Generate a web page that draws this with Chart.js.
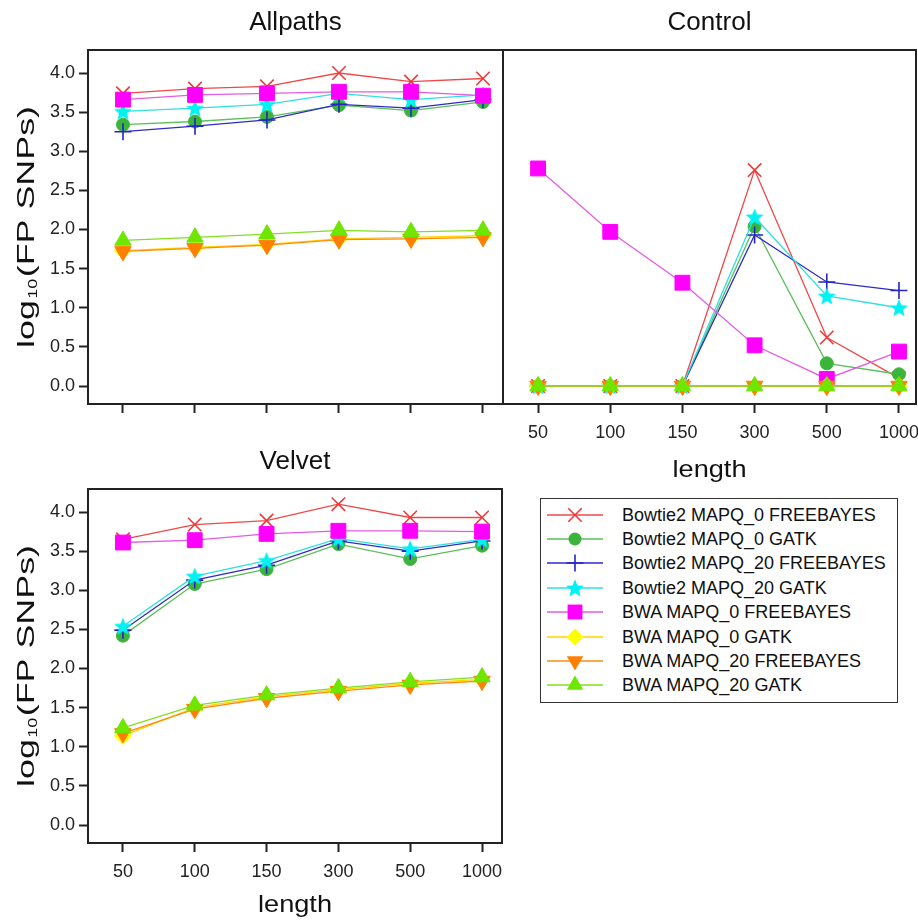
<!DOCTYPE html>
<html><head><meta charset="utf-8">
<script src="https://cdn.jsdelivr.net/npm/chart.js@4.4.1/dist/chart.umd.min.js"></script>
<style>
html,body{margin:0;padding:0;background:#fff;}
body{width:918px;height:923px;position:relative;overflow:hidden;font-family:"Liberation Sans",Arial,sans-serif;}
canvas.pan{position:absolute;}
#legend{position:absolute;left:540px;top:498px;width:358px;height:205px;border:1.5px solid #333;box-sizing:border-box;background:#fff;}
.row{position:absolute;left:0;width:100%;height:24px;}
.row canvas{position:absolute;left:6px;top:0;}
.row span{position:absolute;left:81px;top:0;line-height:24px;font-size:18px;color:#111;white-space:nowrap;}
</style></head>
<body>
<canvas id="cA" class="pan" width="505" height="416" style="left:0;top:0"></canvas>
<canvas id="cC" class="pan" width="417" height="500" style="left:501px;top:0"></canvas>
<canvas id="cV" class="pan" width="505" height="484" style="left:0;top:439px"></canvas>
<div id="legend"></div>
<script>
// ---------- data ----------
const lengths = ['50', '100', '150', '300', '500', '1000'];
const seriesNames = [
  'Bowtie2 MAPQ_0 FREEBAYES', 'Bowtie2 MAPQ_0 GATK',
  'Bowtie2 MAPQ_20 FREEBAYES', 'Bowtie2 MAPQ_20 GATK',
  'BWA MAPQ_0 FREEBAYES', 'BWA MAPQ_0 GATK',
  'BWA MAPQ_20 FREEBAYES', 'BWA MAPQ_20 GATK'
];
const yTickValues = [0, 0.5, 1, 1.5, 2, 2.5, 3, 3.5, 4];

// Allpaths
const allpathsBt0Fb  = [3.74, 3.80, 3.83, 4.00, 3.89, 3.93];
const allpathsBt0Gk  = [3.34, 3.38, 3.44, 3.59, 3.52, 3.63];
const allpathsBt20Fb = [3.25, 3.32, 3.40, 3.60, 3.55, 3.66];
const allpathsBt20Gk = [3.51, 3.55, 3.60, 3.74, 3.66, 3.72];
const allpathsBw0Fb  = [3.66, 3.72, 3.74, 3.76, 3.76, 3.71];
const allpathsBw0Gk  = [1.73, 1.77, 1.81, 1.88, 1.90, 1.92];
const allpathsBw20Fb = [1.72, 1.76, 1.80, 1.87, 1.88, 1.90];
const allpathsBw20Gk = [1.86, 1.90, 1.94, 1.99, 1.97, 1.99];

// Control
const controlBt0Fb  = [0, 0, 0, 2.76, 0.62, 0.10];
const controlBt0Gk  = [0, 0, 0, 2.04, 0.29, 0.15];
const controlBt20Fb = [0, 0, 0, 1.93, 1.33, 1.22];
const controlBt20Gk = [0, 0, 0, 2.16, 1.15, 1.00];
const controlBw0Fb  = [2.78, 1.97, 1.32, 0.52, 0.09, 0.44];
const controlBw0Gk  = [0, 0, 0, 0, 0, 0];
const controlBw20Fb = [0, 0, 0, 0, 0, 0];
const controlBw20Gk = [0, 0, 0, 0, 0, 0];

// Velvet
const velvetBt0Fb  = [3.65, 3.84, 3.89, 4.10, 3.93, 3.93];
const velvetBt0Gk  = [2.42, 3.08, 3.27, 3.59, 3.40, 3.57];
const velvetBt20Fb = [2.49, 3.13, 3.32, 3.63, 3.50, 3.63];
const velvetBt20Gk = [2.54, 3.18, 3.38, 3.66, 3.53, 3.65];
const velvetBw0Fb  = [3.61, 3.64, 3.72, 3.76, 3.76, 3.75];
const velvetBw0Gk  = [1.14, 1.50, 1.64, 1.73, 1.81, 1.86];
const velvetBw20Fb = [1.17, 1.48, 1.62, 1.71, 1.79, 1.84];
const velvetBw20Gk = [1.24, 1.53, 1.66, 1.75, 1.83, 1.89];

// ---------- styles ----------
const FONT = "'Liberation Sans', Arial, sans-serif";
const markerColors = ['#ee3a3a', '#3cb43c', '#2424c8', '#00f2f2', '#ff00ff', '#ffff00', '#ff8000', '#6ee600'];
const lineColors   = ['#f04848', '#5cbe5c', '#2c2cc8', '#2ee0e0', '#e45ce4', '#ffd400', '#ff8a10', '#80e020'];
const markerKinds  = ['crossRot', 'circle', 'cross', 'star', 'rect', 'rectRot', 'triangleDown', 'triangle'];
const markerRadii  = [9.5, 6.5, 8.5, 9, 10.5, 8.5, 9.5, 9.5];

function makeStar(color) {
  const c = document.createElement('canvas');
  c.width = 20; c.height = 20;
  const g = c.getContext('2d');
  g.beginPath();
  for (let i = 0; i < 10; i++) {
    const r = i % 2 === 0 ? 9.5 : 4.2;
    const a = -Math.PI / 2 + i * Math.PI / 5;
    const px = 10 + r * Math.cos(a), py = 10.8 + r * Math.sin(a);
    if (i === 0) g.moveTo(px, py); else g.lineTo(px, py);
  }
  g.closePath();
  g.fillStyle = color; g.fill();
  return c;
}
const starImg = makeStar(markerColors[3]);

function pointStyleFor(i) {
  const k = markerKinds[i];
  if (k === 'star') return starImg;
  if (k === 'triangleDown') return 'triangle';
  return k;
}

function makeDatasets(arrays) {
  return arrays.map((vals, i) => ({
    label: seriesNames[i],
    data: vals.map((v, k) => ({ x: k, y: v })),
    borderColor: lineColors[i],
    borderWidth: 1.3,
    backgroundColor: markerColors[i],
    pointBackgroundColor: markerColors[i],
    pointBorderColor: markerColors[i],
    pointBorderWidth: (markerKinds[i] === 'crossRot' || markerKinds[i] === 'cross') ? 1.6 : 1,
    pointStyle: pointStyleFor(i),
    pointRadius: markerRadii[i],
    pointRotation: markerKinds[i] === 'triangleDown' ? 180 : 0,
    tension: 0,
    fill: false,
    order: 8 - i,
    clip: false
  }));
}

function drawYTitle(ctx, cx, cy, size, targetLen) {
  ctx.save();
  ctx.translate(cx, cy);
  ctx.rotate(-Math.PI / 2);
  const fMain = size + 'px ' + FONT;
  const fSub = Math.round(size * 0.5) + 'px ' + FONT;
  ctx.font = fMain;
  const w1 = ctx.measureText('log').width;
  const w3 = ctx.measureText('(FP SNPs)').width;
  ctx.font = fSub;
  const w2 = ctx.measureText('10').width + 2;
  const total = w1 + w2 + w3;
  ctx.scale(targetLen / total, 1);
  ctx.fillStyle = '#111';
  ctx.textBaseline = 'alphabetic';
  ctx.textAlign = 'left';
  const base = size * 0.36;
  let x = -total / 2;
  ctx.font = fMain; ctx.fillText('log', x, base); x += w1 + 1;
  ctx.font = fSub; ctx.fillText('10', x, base + size * 0.12); x += w2 - 1;
  ctx.font = fMain; ctx.fillText('(FP SNPs)', x, base);
  ctx.restore();
}

function drawXTitle(ctx, cx, cy, size, targetLen) {
  ctx.save();
  ctx.font = size + 'px ' + FONT;
  const w = ctx.measureText('length').width;
  ctx.translate(cx, cy);
  ctx.scale(targetLen / w, 1);
  ctx.fillStyle = '#111';
  ctx.textAlign = 'center';
  ctx.textBaseline = 'middle';
  ctx.fillText('length', 0, 0);
  ctx.restore();
}

const framePlugin = {
  id: 'frame',
  afterDraw(chart, args, opts) {
    const { ctx, chartArea: a } = chart;
    ctx.save();
    ctx.strokeStyle = '#222';
    ctx.lineWidth = 2;
    ctx.strokeRect(a.left, a.top, a.right - a.left, a.bottom - a.top);
    ctx.restore();
    if (opts.yTitle) drawYTitle(ctx, 25, (a.top + a.bottom) / 2, 24, 242);
    if (opts.xTitleY) drawXTitle(ctx, (a.left + a.right) / 2, opts.xTitleY, 24, 74);
  }
};

function makeChart(id, arrays, cfg) {
  const axisH = cfg.xAxisHeight;
  const yW = cfg.showY ? 88 : 0;
  return new Chart(document.getElementById(id), {
    type: 'line',
    data: { datasets: makeDatasets(arrays) },
    options: {
      responsive: false,
      animation: false,
      events: [],
      layout: { autoPadding: false, padding: { left: cfg.padLeft, right: cfg.padRight, top: 0, bottom: 0 } },
      plugins: {
        legend: { display: false },
        tooltip: { enabled: false },
        title: {
          display: true, text: cfg.title, fullSize: false, align: 'center',
          color: '#111', font: { family: FONT, size: 26, weight: 'normal', lineHeight: 1.2 },
          padding: { top: 7.4, bottom: 11.4 }
        },
        frame: { yTitle: cfg.showY, xTitleY: cfg.xTitleY }
      },
      scales: {
        x: {
          type: 'linear', min: cfg.xMin, max: cfg.xMax,
          afterBuildTicks: s => { s.ticks = lengths.map((_, i) => ({ value: i })); },
          afterFit: s => { s.height = axisH; s.paddingLeft = 0; s.paddingRight = 0; },
          grid: { display: true, drawOnChartArea: false, drawTicks: true, tickLength: 9, tickWidth: 2, tickColor: '#222' },
          border: { display: false },
          ticks: {
            display: cfg.showXLabels, autoSkip: false, maxRotation: 0, minRotation: 0, padding: 9,
            color: '#222', font: { family: FONT, size: 18 },
            callback: v => lengths[v]
          }
        },
        y: {
          type: 'linear', min: -0.23, max: 4.294, display: cfg.showY,
          afterBuildTicks: s => { s.ticks = yTickValues.map(v => ({ value: v })); },
          afterFit: s => { s.width = yW; s.paddingTop = 0; s.paddingBottom = 0; },
          grid: { display: true, drawOnChartArea: false, drawTicks: true, tickLength: 9, tickWidth: 2, tickColor: '#222' },
          border: { display: false },
          ticks: {
            padding: 4, color: '#222', font: { family: FONT, size: 18 },
            callback: v => Number(v).toFixed(1)
          }
        }
      }
    },
    plugins: [framePlugin]
  });
}

makeChart('cA',
  [allpathsBt0Fb, allpathsBt0Gk, allpathsBt20Fb, allpathsBt20Gk, allpathsBw0Fb, allpathsBw0Gk, allpathsBw20Fb, allpathsBw20Gk],
  { title: 'Allpaths', padLeft: 0, padRight: 2, xAxisHeight: 12, showY: true, showXLabels: false, xMin: -0.486, xMax: 5.278, xTitleY: null });

makeChart('cC',
  [controlBt0Fb, controlBt0Gk, controlBt20Fb, controlBt20Gk, controlBw0Fb, controlBw0Gk, controlBw20Fb, controlBw20Gk],
  { title: 'Control', padLeft: 2, padRight: 2, xAxisHeight: 96, showY: false, showXLabels: true, xMin: -0.486, xMax: 5.236, xTitleY: 470 });

makeChart('cV',
  [velvetBt0Fb, velvetBt0Gk, velvetBt20Fb, velvetBt20Gk, velvetBw0Fb, velvetBw0Gk, velvetBw20Fb, velvetBw20Gk],
  { title: 'Velvet', padLeft: 0, padRight: 3, xAxisHeight: 80, showY: true, showXLabels: true, xMin: -0.486, xMax: 5.278, xTitleY: 466 });

// ---------- HTML legend ----------
function drawMarker(g, i, x, y) {
  const col = markerColors[i];
  const r = markerRadii[i];
  g.fillStyle = col; g.strokeStyle = col; g.lineWidth = 1.6;
  const k = markerKinds[i];
  g.beginPath();
  if (k === 'crossRot') {
    const d = r * Math.SQRT1_2;
    g.moveTo(x - d, y - d); g.lineTo(x + d, y + d);
    g.moveTo(x + d, y - d); g.lineTo(x - d, y + d); g.stroke();
  } else if (k === 'cross') {
    g.moveTo(x, y - r); g.lineTo(x, y + r);
    g.moveTo(x - r, y); g.lineTo(x + r, y); g.stroke();
  } else if (k === 'circle') {
    g.arc(x, y, r, 0, Math.PI * 2); g.fill();
  } else if (k === 'rect') {
    const s = r * Math.SQRT1_2; g.rect(x - s, y - s, 2 * s, 2 * s); g.fill();
  } else if (k === 'rectRot') {
    g.moveTo(x, y - r); g.lineTo(x + r, y); g.lineTo(x, y + r); g.lineTo(x - r, y); g.closePath(); g.fill();
  } else if (k === 'triangle' || k === 'triangleDown') {
    const sgn = k === 'triangle' ? 1 : -1;
    for (let j = 0; j < 3; j++) {
      const a = j * 2 * Math.PI / 3;
      const px = x + Math.sin(a) * r, py = y - sgn * Math.cos(a) * r;
      if (j === 0) g.moveTo(px, py); else g.lineTo(px, py);
    }
    g.closePath(); g.fill();
  } else if (k === 'star') {
    g.drawImage(starImg, x - starImg.width / 2, y - starImg.height / 2);
  }
}

const legendEl = document.getElementById('legend');
seriesNames.forEach((name, i) => {
  const row = document.createElement('div');
  row.className = 'row';
  row.style.top = (3.5 + i * 24.4) + 'px';
  const c = document.createElement('canvas');
  c.width = 56; c.height = 24;
  const g = c.getContext('2d');
  g.strokeStyle = lineColors[i]; g.lineWidth = 1.3;
  g.beginPath(); g.moveTo(0, 12); g.lineTo(56, 12); g.stroke();
  drawMarker(g, i, 28, 12);
  const sp = document.createElement('span');
  sp.textContent = name;
  row.appendChild(c); row.appendChild(sp);
  legendEl.appendChild(row);
});
</script>
</body></html>
